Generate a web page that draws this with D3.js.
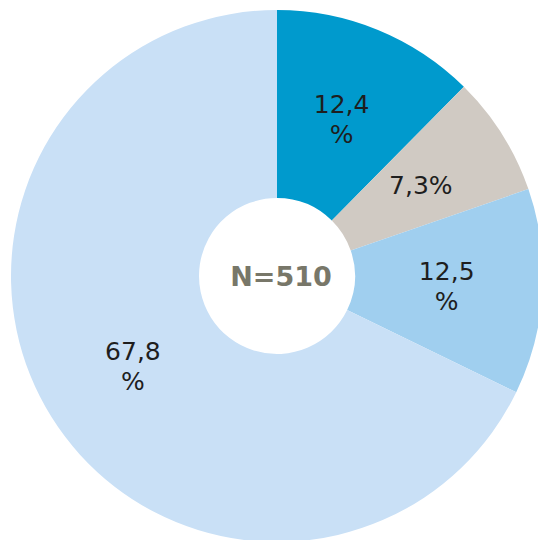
<!DOCTYPE html>
<meta charset="utf-8">
<style>
  body { margin: 0; background: #fff; }
  .labels text {
    font-family: "DejaVu Sans", Verdana, sans-serif;
    font-size: 25px;
    fill: #1e1e1e;
  }
  .center {
    font-family: "DejaVu Sans", Verdana, sans-serif;
    font-weight: bold;
    font-size: 27px;
    fill: #787769;
  }
</style>
<svg width="538" height="540"></svg>
<script src="https://d3js.org/d3.v7.min.js"></script>
<script>
  var categories = ["A", "B", "C", "D"];
  var values = [12.4, 7.3, 12.5, 67.8];
  var labels = [["12,4", "%"], ["7,3%"], ["12,5", "%"], ["67,8", "%"]];
  var colors = ["#009acd", "#d0cac3", "#a0cfef", "#c9e0f6"];
  var total = "N=510";

  var svg = d3.select("svg"),
    cx = 277,
    cy = 276,
    outer = 266,
    inner = 78;

  var g = svg.append("g").attr("transform", "translate(" + cx + "," + cy + ")");

  var color = d3.scaleOrdinal().domain(categories).range(colors);

  var pie = d3.pie().sort(null).value(function(d) { return d.value; });
  var data = pie(categories.map(function(c, i) {
    return { name: c, value: values[i], label: labels[i] };
  }));

  var arc = d3.arc().innerRadius(inner).outerRadius(outer);
  var labelArc = d3.arc().innerRadius(170).outerRadius(170);

  g.selectAll("path")
    .data(data)
    .enter().append("path")
    .attr("d", arc)
    .attr("fill", function(d) { return color(d.data.name); });

  var lab = g.append("g").attr("class", "labels")
    .selectAll("text")
    .data(data)
    .enter().append("text")
    .attr("text-anchor", "middle")
    .attr("transform", function(d) {
      var c = labelArc.centroid(d);
      var n = d.data.label.length;
      // shift block so it is centred vertically on the centroid
      return "translate(" + c[0] + "," + (c[1] - (n - 1) * 15 + 9) + ")";
    });

  lab.selectAll("tspan")
    .data(function(d) { return d.data.label; })
    .enter().append("tspan")
    .attr("x", 0)
    .attr("dy", function(d, i) { return i === 0 ? 0 : 30; })
    .text(function(d) { return d; });

  g.append("text")
    .attr("class", "center")
    .attr("text-anchor", "middle")
    .attr("x", 4)
    .attr("y", 10)
    .text(total);
</script>
